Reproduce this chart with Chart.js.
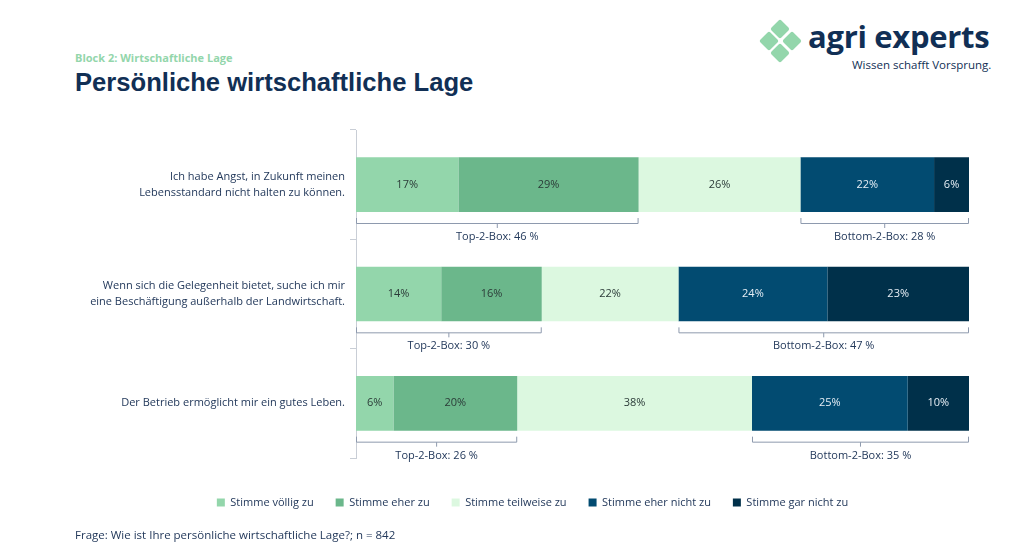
<!DOCTYPE html>
<html lang="de">
<head>
<meta charset="utf-8">
<script src="https://cdn.jsdelivr.net/npm/chart.js@4.4.1/dist/chart.umd.min.js"></script>
<style>
  body { margin: 0; width: 1024px; height: 553px; background: #fff; position: relative; overflow: hidden; font-family: "Open Sans", sans-serif; }
  .kicker { position: absolute; left: 75px; top: 50px; font-size: 11px; font-weight: 700; color: #93d6ab; }
  .title { position: absolute; left: 75px; top: 68px; font-family: "Liberation Sans", Arial, sans-serif; font-size: 25.6px; font-weight: 700; color: #112f55; }
  .logo { position: absolute; left: 760px; top: 20px; width: 240px; height: 55px; }
  .logo .d { position: absolute; width: 14px; height: 14px; background: #93d6ab; transform: rotate(45deg); border-radius: 2px; }
  .logo .name { position: absolute; left: 48px; top: -5px; font-size: 31px; font-weight: 700; color: #112f55; letter-spacing: -0.3px; }
  .logo .claim { position: absolute; left: 92px; top: 37px; font-size: 11.5px; color: #112f55; }
  .note { position: absolute; left: 75px; top: 527px; font-size: 11.5px; color: #23395b; }
  #chart { position: absolute; left: 0; top: 115px; }
</style>
</head>
<body>
<div class="kicker">Block 2: Wirtschaftliche Lage</div>
<div class="title">Persönliche wirtschaftliche Lage</div>
<div class="logo">
  <div class="d" style="left:13px;top:2px"></div>
  <div class="d" style="left:2px;top:14px"></div>
  <div class="d" style="left:25px;top:14px"></div>
  <div class="d" style="left:13px;top:26px"></div>
  <div class="name">agri experts</div>
  <div class="claim">Wissen schafft Vorsprung.</div>
</div>
<canvas id="chart" width="1024" height="420"></canvas>
<div class="note">Frage: Wie ist Ihre persönliche wirtschaftliche Lage?; n = 842</div>
<script>
// Statements (y categories)
const statements = [
  ['Ich habe Angst, in Zukunft meinen', 'Lebensstandard nicht halten zu können.'],
  ['Wenn sich die Gelegenheit bietet, suche ich mir', 'eine Beschäftigung außerhalb der Landwirtschaft.'],
  ['Der Betrieb ermöglicht mir ein gutes Leben.']
];

// Answer categories
const answers = ['Stimme völlig zu', 'Stimme eher zu', 'Stimme teilweise zu', 'Stimme eher nicht zu', 'Stimme gar nicht zu'];
const colors = ['#93d6ab', '#6bb78b', '#dcf8e0', '#024b71', '#00304a'];
const labelColors = ['#2b3b38', '#2b3b38', '#2b3b38', '#e6eef5', '#e6eef5'];

// Shares in percent per answer (one value per statement)
const voelligZu = [16.7, 13.9, 6.1];
const eherZu = [29.4, 16.4, 20.2];
const teilweiseZu = [26.4, 22.3, 38.3];
const eherNichtZu = [21.8, 24.3, 25.4];
const garNichtZu = [5.7, 23.1, 10.0];

// Box summaries as printed
const top2 = [46, 30, 26];
const bottom2 = [28, 47, 35];

const series = [voelligZu, eherZu, teilweiseZu, eherNichtZu, garNichtZu];

const textColor = '#23395b';
const axisColor = '#c9ced6';

// Draws the percentage labels and the Top-2 / Bottom-2 brackets
const boxPlugin = {
  id: 'boxPlugin',
  afterLayout(chart) {
    // legend is centred on the page, not on the plot
    chart.legend.left += 48;
    chart.legend.right += 48;
  },
  afterDatasetsDraw(chart) {
    const ctx = chart.ctx;
    const x = chart.scales.x;
    ctx.save();
    ctx.font = '11px "Open Sans"';
    ctx.textAlign = 'center';
    ctx.textBaseline = 'middle';
    chart.data.datasets.forEach((ds, i) => {
      chart.getDatasetMeta(i).data.forEach((bar, j) => {
        ctx.fillStyle = labelColors[i];
        ctx.fillText(Math.round(ds.data[j]) + '%', (bar.x + bar.base) / 2, bar.y);
      });
    });

    const meta = chart.getDatasetMeta(0);
    statements.forEach((s, j) => {
      const bar = meta.data[j];
      const bottom = bar.y + bar.height / 2;
      const a = voelligZu[j] + eherZu[j];
      const b = a + teilweiseZu[j];
      const total = b + eherNichtZu[j] + garNichtZu[j];
      const brackets = [
        [x.getPixelForValue(0), x.getPixelForValue(a), 'Top-2-Box: ' + top2[j] + ' %'],
        [x.getPixelForValue(b), x.getPixelForValue(total), 'Bottom-2-Box: ' + bottom2[j] + ' %']
      ];
      brackets.forEach(([x0, x1, label]) => {
        const mid = (x0 + x1) / 2;
        ctx.strokeStyle = '#8e9aae';
        ctx.lineWidth = 1;
        ctx.beginPath();
        ctx.moveTo(x0 + 0.5, bottom + 6);
        ctx.lineTo(x0 + 0.5, bottom + 11.5);
        ctx.lineTo(x1 - 0.5, bottom + 11.5);
        ctx.lineTo(x1 - 0.5, bottom + 6);
        ctx.moveTo(mid, bottom + 11.5);
        ctx.lineTo(mid, bottom + 16);
        ctx.stroke();
        ctx.fillStyle = textColor;
        ctx.fillText(label, mid, bottom + 25);
      });
    });
    ctx.restore();
  }
};

new Chart(document.getElementById('chart'), {
  type: 'bar',
  data: {
    labels: statements,
    datasets: answers.map((name, i) => ({
      label: name,
      data: series[i],
      backgroundColor: colors[i],
      borderWidth: 0,
      barPercentage: 0.5,
      categoryPercentage: 1
    }))
  },
  options: {
    indexAxis: 'y',
    responsive: false,
    animation: false,
    layout: { padding: { top: 15, right: 55, bottom: 17, left: 0 } },
    scales: {
      x: {
        stacked: true,
        min: 0,
        max: 100,
        display: true,
        ticks: { display: false },
        grid: { display: false },
        border: { display: false },
        afterFit: s => { s.height = 17; }
      },
      y: {
        stacked: true,
        afterFit: s => { s.width = 356; },
        grid: { offset: true, drawOnChartArea: false, tickLength: 6, color: axisColor },
        border: { color: axisColor },
        ticks: {
          padding: 5,
          color: textColor,
          font: { family: 'Open Sans', size: 11, lineHeight: 1.45 }
        }
      }
    },
    plugins: {
      legend: {
        position: 'bottom',
        labels: {
          boxWidth: 8,
          boxHeight: 8,
          padding: 22,
          color: textColor,
          font: { family: 'Open Sans', size: 11 }
        }
      },
      tooltip: { enabled: false }
    }
  },
  plugins: [boxPlugin]
});
</script>
</body>
</html>
